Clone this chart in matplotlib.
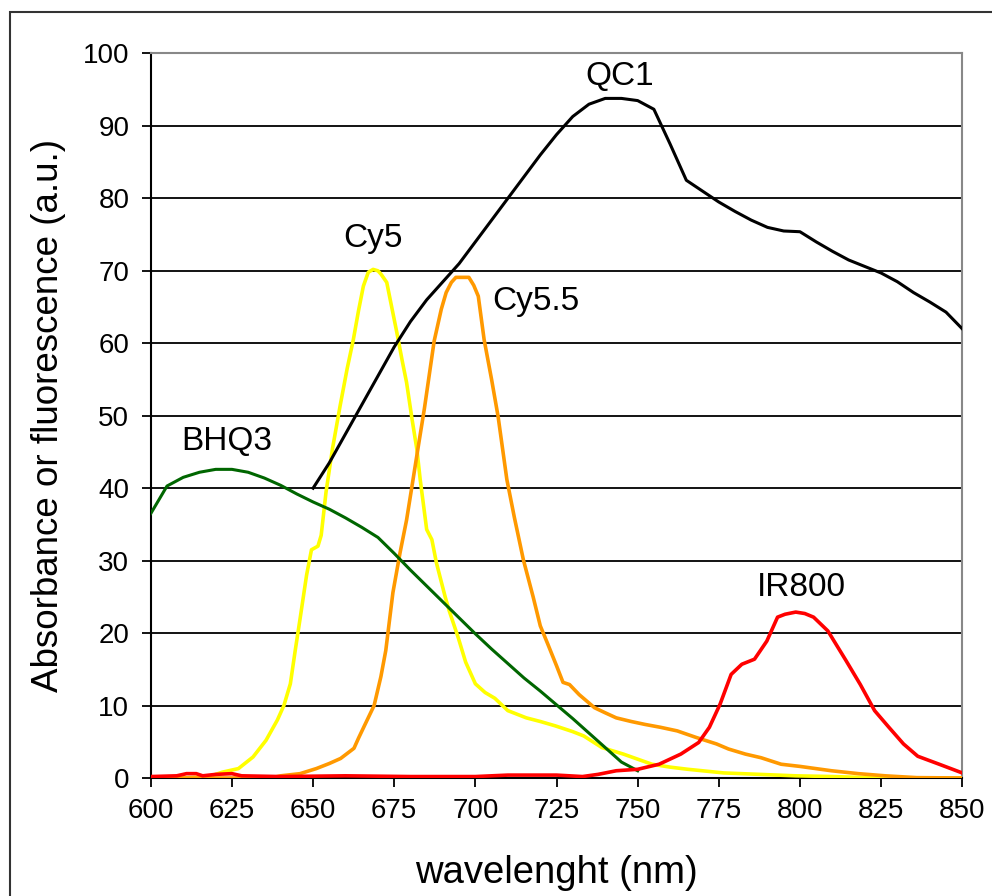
import matplotlib
matplotlib.use('Agg')
from matplotlib import pyplot as plt
from matplotlib.patches import Rectangle

plt.rcParams['font.family'] = ['Liberation Sans', 'DejaVu Sans']

# Cy5 (yellow)
cy5_wl = [600, 610, 618, 622, 627, 631.5, 635.5, 639, 641, 643, 644.5, 646, 648, 649.5,
          651.5, 652.5, 654, 656, 658.3, 660.5, 662.4, 664, 665.5, 667, 668.5, 670, 671,
          672.7, 674, 675.8, 677.5, 678.8, 680.5, 682, 683, 685, 686.6, 688, 690.7, 692,
          694.7, 697, 700, 703, 706, 710, 715.7, 720, 724.6, 730, 733.4, 739, 745.6, 750,
          754.4, 760, 765.5, 776.5, 787.6, 798.7, 810, 820.8, 830, 850]
cy5_val = [0, 0, 0.2, 0.8, 1.3, 2.9, 5.2, 8, 10, 13, 17.6, 22, 28, 31.5,
           32, 33.5, 39.5, 45.5, 51.3, 56.5, 60.5, 64.5, 67.9, 69.8, 70.2, 70, 69.5,
           68.4, 65.5, 61.5, 57.5, 54.6, 49.5, 45.3, 41.2, 34.3, 32.9, 29.7, 25, 23,
           19.4, 16, 13, 11.8, 11, 9.3, 8.3, 7.8, 7.2, 6.4, 5.8, 4.2, 3.3, 2.6,
           1.9, 1.5, 1.2, 0.7, 0.5, 0.3, 0.2, 0.05, 0, 0]

# Cy5.5 (orange)
cy55_wl = [600, 637, 640, 646, 651, 655, 658.5, 662.6, 664, 665.7, 668.8, 670.9, 672.4,
           674.6, 676.8, 678.8, 680.8, 682.5, 684.3, 687.3, 689.5, 691, 692.6, 694, 698,
           699.5, 700.9, 702.7, 705, 707, 709.7, 712, 714.8, 717.8, 720, 722.3, 725, 727,
           729, 732, 736.7, 740, 743.4, 748, 752.2, 757, 762.2, 768, 774.3, 778, 783.2,
           788, 794.2, 800, 809.7, 818, 826.3, 836, 850]
cy55_val = [0, 0, 0.3, 0.6, 1.3, 2, 2.7, 4.1, 5.5, 7.1, 10, 14, 17.6,
            25.6, 31.1, 35.6, 41.2, 46, 51, 60.3, 64.7, 67, 68.4, 69.1, 69.1,
            68, 66.5, 60.5, 55, 49.9, 41.2, 36, 30.1, 25, 21, 18.5, 15.5, 13.2,
            12.9, 11.5, 9.7, 9, 8.3, 7.8, 7.4, 7.0, 6.5, 5.6, 4.7, 4.0, 3.3,
            2.8, 1.9, 1.6, 1.0, 0.6, 0.3, 0.05, 0]

# BHQ3 (green)
bhq3_wl = [600, 605, 610, 615, 620, 625, 630, 635, 640, 645, 650, 655, 660, 665, 670,
           675, 680, 685, 690, 695, 700, 705, 710, 715, 720, 725, 730, 735, 740, 745, 750]
bhq3_val = [36.5, 40.3, 41.5, 42.2, 42.6, 42.6, 42.2, 41.4, 40.4, 39.2, 38.1, 37.1, 35.9,
            34.6, 33.2, 31, 28.7, 26.5, 24.3, 22.1, 19.9, 17.8, 15.8, 13.8, 12, 10.1,
            8.2, 6.2, 4.2, 2.2, 1.0]

# IR800 (red)
ir800_wl = [600, 608, 611, 614, 616, 620, 625, 628, 640, 660, 680, 700, 710, 725, 733,
            737.8, 743.4, 750, 756.6, 763.3, 768.8, 772.1, 775.4, 778.8, 782.1, 786,
            789.8, 793.1, 795.4, 798.7, 801.5, 804.2, 808.6, 814.2, 818.6, 823, 827.4,
            831.9, 836.3, 842.9, 850]
ir800_val = [0.2, 0.3, 0.6, 0.6, 0.3, 0.5, 0.6, 0.3, 0.2, 0.3, 0.2, 0.2, 0.4, 0.4, 0.2,
             0.5, 1.0, 1.2, 1.9, 3.3, 4.9, 7, 10.2, 14.3, 15.7, 16.4,
             18.9, 22.2, 22.6, 22.9, 22.7, 22.2, 20.3, 16.2, 12.9, 9.3, 7,
             4.7, 3, 1.9, 0.7]

# QC1 (black)
qc1_wl = list(range(650, 851, 5))
qc1_val = [40, 43.5, 47.5, 51.5, 55.5, 59.5, 63, 66, 68.5, 71, 74, 77, 80, 83, 86,
           88.8, 91.3, 93, 93.8, 93.8, 93.5, 92.3, 87.5, 82.5, 81, 79.5, 78.2, 77,
           76, 75.5, 75.4, 74, 72.7, 71.5, 70.6, 69.7, 68.5, 67, 65.7, 64.3, 62]

labels = ['QC1', 'Cy5', 'Cy5.5', 'BHQ3', 'IR800']
label_pos = [(744.5, 96.8), (668.5, 74.4), (718.5, 65.8), (623.5, 46.4), (800.5, 26.3)]

fig = plt.figure(figsize=(9.92, 8.96), dpi=100)
ax = fig.add_axes([0.152, 0.1317, 0.818, 0.8086])

# outer frame of the picture
fig.patches.append(Rectangle((10 / 992, -0.1), 1.2, 1 - 12 / 896 + 0.1,
                             transform=fig.transFigure, fill=False,
                             edgecolor='#333333', linewidth=1.5))

# horizontal gridlines
for v in range(10, 100, 10):
    ax.axhline(v, color='black', linewidth=1.3, zorder=1)

ax.plot(cy5_wl, cy5_val, color='#FFFF00', linewidth=2.6, zorder=3)
ax.plot(cy55_wl, cy55_val, color='#FF9900', linewidth=2.6, zorder=3)
ax.plot(bhq3_wl, bhq3_val, color='#006600', linewidth=2.2, zorder=4)
ax.plot(ir800_wl, ir800_val, color='#FF0000', linewidth=2.6, zorder=4)
ax.plot(qc1_wl, qc1_val, color='black', linewidth=2.2, zorder=5)

for name, (x, y) in zip(labels, label_pos):
    ax.text(x, y, name, fontsize=24, ha='center', va='center')

ax.set_xlim(600, 850)
ax.set_ylim(0, 100)
ax.set_xticks(range(600, 851, 25))
ax.set_yticks(range(0, 101, 10))
ax.tick_params(axis='both', direction='out', length=6.5, width=1.3, labelsize=20)
ax.tick_params(axis='y', pad=9)
ax.tick_params(axis='x', pad=8)

for side in ['top', 'right']:
    ax.spines[side].set_color('#888888')
    ax.spines[side].set_linewidth(1.5)
for side in ['left', 'bottom']:
    ax.spines[side].set_color('black')
    ax.spines[side].set_linewidth(1.5)

ax.set_xlabel('wavelenght (nm)', fontsize=27.5, labelpad=22)
ax.set_ylabel('Absorbance or fluorescence (a.u.)', fontsize=26.5, labelpad=12)

fig.savefig('out.png', dpi=100)
